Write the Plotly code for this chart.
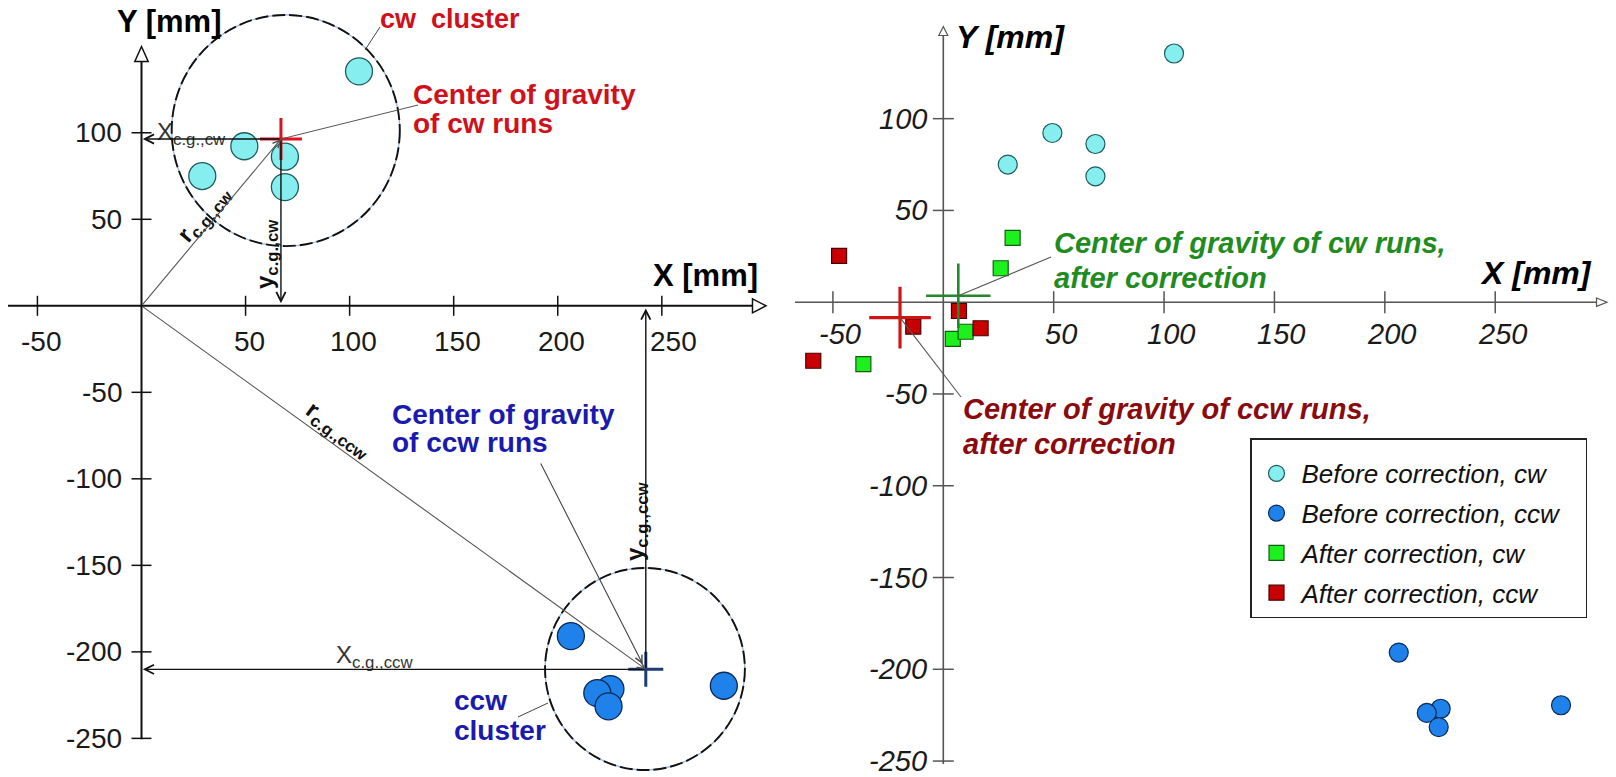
import plotly.graph_objects as go

# ---------------- data (mm) ----------------
cw_before_x = [104.5, 49.4, 29.2, 68.9, 68.9]
cw_before_y = [135.5, 92.2, 75.0, 86.2, 68.6]
ccw_before_x = [206.3, 279.8, 225.3, 219.0, 224.4]
ccw_before_y = [-190.9, -219.6, -221.5, -223.8, -231.5]
cw_after_x = [31.4, 26.0, -36.2, 4.3, 10.1]
cw_after_y = [35.1, 18.5, -33.7, -20.0, -16.1]
ccw_after_x = [-47.2, -13.6, 7.1, 16.9, -58.9]
ccw_after_y = [25.2, -13.3, -4.8, -14.2, -31.9]

# centres of gravity: [cw, ccw]
cg_before_x = [67.0, 242.3]
cg_before_y = [96.4, -210.1]
cg_after_x = [6.8, -19.6]
cg_after_y = [3.5, -8.4]

# cluster circles: [cw, ccw] centre and half-extent (mm)
cluster_cx = [69.3, 241.9]
cluster_cy = [101.3, -209.9]
cluster_rx = [54.8, 48.0]
cluster_ry = [66.8, 58.4]

x_ticks = [-50, 50, 100, 150, 200, 250]
y_ticks = [100, 50, -50, -100, -150, -200, -250]

legend_names = ["Before correction, cw", "Before correction, ccw",
                "After correction, cw", "After correction, ccw"]

# ---------------- geometry ----------------
W, H = 1616, 777
SPLIT = 780
X0L, SXL, Y0L, SYL = 141.5, 2.0813, 305.8, 1.7303   # left panel pixel scale
X0R, SXR, Y0R, SYR = 943.3, 2.2077, 302.2, 1.8354   # right panel pixel scale
FONT = "Liberation Sans, Arial, sans-serif"
NBSP = "\u00a0"


def lx(px):
    return (px - X0L) / SXL


def ly(py):
    return (Y0L - py) / SYL


def rx(px):
    return (px - X0R) / SXR


def ry(py):
    return (Y0R - py) / SYR


fig = go.Figure()

# ---------------- left panel marks ----------------
fig.add_trace(go.Scatter(x=cw_before_x, y=cw_before_y, mode="markers", xaxis="x", yaxis="y",
                         showlegend=False,
                         marker=dict(size=27, color="#86eeee", line=dict(color="#1f5c5c", width=1.3))))
fig.add_trace(go.Scatter(x=ccw_before_x, y=ccw_before_y, mode="markers", xaxis="x", yaxis="y",
                         showlegend=False,
                         marker=dict(size=27, color="#1e82ea", line=dict(color="#0b2a55", width=1.3))))
fig.add_trace(go.Scatter(x=[cg_before_x[0]], y=[cg_before_y[0]], mode="markers", xaxis="x", yaxis="y",
                         showlegend=False,
                         marker=dict(symbol="cross-thin", size=30, line=dict(color="#e0101c", width=3))))
fig.add_trace(go.Scatter(x=[cg_before_x[1]], y=[cg_before_y[1]], mode="markers", xaxis="x", yaxis="y",
                         showlegend=False,
                         marker=dict(symbol="cross-thin", size=25, line=dict(color="#1e3c78", width=3))))

# ---------------- right panel marks ----------------
fig.add_trace(go.Scatter(x=cw_before_x, y=cw_before_y, mode="markers", xaxis="x2", yaxis="y2",
                         name=legend_names[0], legendgroup="a",
                         marker=dict(size=19, color="#86eeee", line=dict(color="#1f5c5c", width=1.2))))
fig.add_trace(go.Scatter(x=ccw_before_x, y=ccw_before_y, mode="markers", xaxis="x2", yaxis="y2",
                         name=legend_names[1] + NBSP * 3, legendgroup="b",
                         marker=dict(size=19, color="#1e82ea", line=dict(color="#0b2a55", width=1.2))))
fig.add_trace(go.Scatter(x=cw_after_x, y=cw_after_y, mode="markers", xaxis="x2", yaxis="y2",
                         name=legend_names[2], legendgroup="c",
                         marker=dict(symbol="square", size=15, color="#1ef01e",
                                     line=dict(color="#135c13", width=1.2))))
fig.add_trace(go.Scatter(x=ccw_after_x, y=ccw_after_y, mode="markers", xaxis="x2", yaxis="y2",
                         name=legend_names[3], legendgroup="d",
                         marker=dict(symbol="square", size=15, color="#c80000",
                                     line=dict(color="#4a0000", width=1.2))))
fig.add_trace(go.Scatter(x=[cg_after_x[0]], y=[cg_after_y[0]], mode="markers", xaxis="x2", yaxis="y2",
                         showlegend=False,
                         marker=dict(symbol="cross-thin", size=46, line=dict(color="#23882a", width=2.6))))
fig.add_trace(go.Scatter(x=[cg_after_x[1]], y=[cg_after_y[1]], mode="markers", xaxis="x2", yaxis="y2",
                         showlegend=False,
                         marker=dict(symbol="cross-thin", size=44, line=dict(color="#d01414", width=3.2))))

shapes = []
ann = []

# ---------------- cluster circles ----------------
for i in range(2):
    for col, wd, dash in (("#9ab6e0", 1.3, "solid"), ("#111111", 1.9, "13px,4px")):
        shapes.append(dict(type="circle", xref="x", yref="y", layer="below",
                           x0=cluster_cx[i] - cluster_rx[i], x1=cluster_cx[i] + cluster_rx[i],
                           y0=cluster_cy[i] - cluster_ry[i], y1=cluster_cy[i] + cluster_ry[i],
                           line=dict(color=col, width=wd, dash=dash)))

# ---------------- axes (left) ----------------
AXL = dict(color="#111111", width=2)
shapes.append(dict(type="line", xref="x", yref="y", x0=lx(8), x1=lx(753), y0=0, y1=0, line=AXL, layer="below"))
shapes.append(dict(type="line", xref="x", yref="y", x0=0, x1=0, y0=-250.5, y1=ly(62), line=AXL, layer="below"))
shapes.append(dict(type="path", xref="x", yref="y", fillcolor="white", line=dict(color="#111111", width=1.5),
                   path=f"M {lx(752.5)},{7/SYL} L {lx(766)},0 L {lx(752.5)},{-7/SYL} Z"))
shapes.append(dict(type="path", xref="x", yref="y", fillcolor="white", line=dict(color="#111111", width=1.5),
                   path=f"M {-6.7/SXL},{ly(61.5)} L 0,{ly(46.5)} L {6.7/SXL},{ly(61.5)} Z"))
for t in x_ticks:
    shapes.append(dict(type="line", xref="x", yref="y", x0=t, x1=t, y0=-10/SYL, y1=10/SYL,
                       line=dict(color="#111111", width=1.5)))
    ann.append(dict(x=t, y=0, xref="x", yref="y", text=str(t), showarrow=False,
                    xshift=12 if t == 250 else 4, yshift=-36, xanchor="center", yanchor="middle",
                    font=dict(family=FONT, size=28, color="#1a1a1a")))
for t in y_ticks:
    shapes.append(dict(type="line", xref="x", yref="y", x0=-10/SXL, x1=10/SXL, y0=t, y1=t,
                       line=dict(color="#111111", width=1.5)))
    ann.append(dict(x=0, y=t, xref="x", yref="y", text=str(t), showarrow=False,
                    xshift=-18, xanchor="right", yanchor="middle",
                    font=dict(family=FONT, size=28, color="#1a1a1a")))

# ---------------- axes (right) ----------------
AXR = dict(color="#555555", width=1.6)
shapes.append(dict(type="line", xref="x2", yref="y2", x0=rx(795), x1=rx(1597), y0=0, y1=0, line=AXR, layer="below"))
shapes.append(dict(type="line", xref="x2", yref="y2", x0=0, x1=0, y0=ry(764), y1=ry(35), line=AXR, layer="below"))
shapes.append(dict(type="path", xref="x2", yref="y2", fillcolor="white", line=dict(color="#555555", width=1.2),
                   path=f"M {rx(1596.5)},{4.2/SYR} L {rx(1607)},0 L {rx(1596.5)},{-4.2/SYR} Z"))
shapes.append(dict(type="path", xref="x2", yref="y2", fillcolor="white", line=dict(color="#555555", width=1.2),
                   path=f"M {-4.5/SXR},{ry(35.5)} L 0,{ry(26.5)} L {4.5/SXR},{ry(35.5)} Z"))
for t in x_ticks:
    shapes.append(dict(type="line", xref="x2", yref="y2", x0=t, x1=t, y0=-11/SYR, y1=11/SYR,
                       line=dict(color="#555555", width=1.5)))
    ann.append(dict(x=t, y=0, xref="x2", yref="y2", text=str(t), showarrow=False,
                    xshift=7, yshift=-32, xanchor="center", yanchor="middle",
                    font=dict(family=FONT, size=29, color="#1a1a1a", style="italic")))
for t in y_ticks:
    shapes.append(dict(type="line", xref="x2", yref="y2", x0=-10.5/SXR, x1=10.5/SXR, y0=t, y1=t,
                       line=dict(color="#555555", width=1.5)))
    ann.append(dict(x=0, y=t, xref="x2", yref="y2", text=str(t), showarrow=False,
                    xshift=-14, xanchor="right", yanchor="middle",
                    font=dict(family=FONT, size=29, color="#1a1a1a", style="italic")))


def txt(s, px, py, size, color="black", weight="normal", style="normal", xanchor="center", angle=0):
    return dict(text=s, x=px / W, y=1 - py / H, xref="paper", yref="paper", showarrow=False,
                xanchor=xanchor, yanchor="middle", textangle=angle,
                font=dict(family=FONT, size=size, color=color, weight=weight, style=style))


def arrow(xh, yh, xt, yt, axis="", color="#111111", width=1.3, head=5):
    return dict(x=xh, y=yh, ax=xt, ay=yt, xref="x" + axis, yref="y" + axis,
                axref="x" + axis, ayref="y" + axis, text="", showarrow=True,
                arrowhead=head, arrowsize=1.3, arrowwidth=width, arrowcolor=color,
                standoff=0, startstandoff=0)


RED = "#d0101a"
BLUE = "#1a1aae"

# ---------------- left annotations ----------------
ann.append(txt("Y [mm]", 169, 22, 31, weight="bold"))
ann.append(txt("X [mm]", 705, 276, 31, weight="bold"))
ann.append(txt("cw  cluster", 378, 19, 27, RED, "bold", xanchor="left"))
ann.append(txt("Center of gravity", 411, 94, 28, RED, "bold", xanchor="left"))
ann.append(txt("of cw runs", 411, 123, 28, RED, "bold", xanchor="left"))
ann.append(txt("Center of gravity", 390, 414, 28, BLUE, "bold", xanchor="left"))
ann.append(txt("of ccw runs", 390, 442, 28, BLUE, "bold", xanchor="left"))
ann.append(txt("ccw", 452, 700, 28, BLUE, "bold", xanchor="left"))
ann.append(txt("cluster", 452, 730, 28, BLUE, "bold", xanchor="left"))

ann.append(txt("X<sub>c.g.,cw</sub>", 155, 133, 24, "#333333", xanchor="left"))
ann.append(txt("X<sub>c.g.,ccw</sub>", 334, 656, 24, "#333333", xanchor="left"))
ann.append(txt("r<sub>c.g.,cw</sub>", 204, 214, 24, "#111111", "bold", angle=-50))
ann.append(txt("y<sub>c.g.,cw</sub>", 267, 254, 24, "#111111", "bold", angle=-90))
ann.append(txt("r<sub>c.g.,ccw</sub>", 339, 430, 24, "#111111", "bold", angle=36))
ann.append(txt("y<sub>c.g.,ccw</sub>", 636, 521, 24, "#111111", "bold", angle=-90))

# leader lines (left)
shapes.append(dict(type="line", xref="paper", yref="paper", x0=380 / W, y0=1 - 27 / H, x1=365 / W, y1=1 - 50 / H,
                   line=dict(color="#444444", width=1)))
shapes.append(dict(type="line", xref="x", yref="y", x0=cg_before_x[0], y0=cg_before_y[0], x1=lx(418), y1=ly(105),
                   line=dict(color="#555555", width=1)))
shapes.append(dict(type="line", xref="paper", yref="paper", x0=518 / W, y0=1 - 717 / H, x1=548 / W, y1=1 - 703 / H,
                   line=dict(color="#444444", width=1)))

# dimension arrows (left)
cxw, cyw = cg_before_x[0], cg_before_y[0]
cxc, cyc = cg_before_x[1], cg_before_y[1]
ann.append(arrow(0.6, cyw, cxw, cyw, width=1.4))
ann.append(arrow(cxw, 1.5, cxw, cyw, width=1.4))
ann.append(arrow(cxw, cyw, 0, 0, color="#555555", width=1.1))
ann.append(arrow(0.6, cyc, cxc, cyc, width=1.4))
ann.append(arrow(cxc, -1.5, cxc, cyc, width=1.4))
ann.append(arrow(cxc, cyc, 0, 0, color="#555555", width=1.1))
ann.append(arrow(cxc - 1.5, cyc + 3, lx(540), ly(462), color="#444444", width=1.1))

# ---------------- right annotations ----------------
GREEN = "#1f8c22"
DRED = "#8a0a0e"
ann.append(txt("Y [mm]", 1011, 37, 32, weight="bold", style="italic"))
ann.append(txt("X [mm]", 1536, 273, 32, weight="bold", style="italic"))
ann.append(txt("Center of gravity of cw runs,", 1052, 243, 29, GREEN, "bold", "italic", xanchor="left"))
ann.append(txt("after correction", 1052, 278, 29, GREEN, "bold", "italic", xanchor="left"))
ann.append(txt("Center of gravity of ccw runs,", 961, 409, 29, DRED, "bold", "italic", xanchor="left"))
ann.append(txt("after correction", 961, 444, 29, DRED, "bold", "italic", xanchor="left"))
shapes.append(dict(type="line", xref="x2", yref="y2", x0=cg_after_x[0], y0=cg_after_y[0], x1=rx(1051), y1=ry(257),
                   line=dict(color="#555555", width=1.1)))
shapes.append(dict(type="line", xref="x2", yref="y2", x0=cg_after_x[1], y0=cg_after_y[1], x1=rx(961), y1=ry(397),
                   line=dict(color="#555555", width=1.1)))

fig.update_layout(
    width=W, height=H, margin=dict(l=0, r=0, t=0, b=0),
    paper_bgcolor="white", plot_bgcolor="white",
    xaxis=dict(domain=[0, SPLIT / W], range=[lx(0), lx(SPLIT)], visible=False, fixedrange=True),
    yaxis=dict(domain=[0, 1], range=[ly(H), ly(0)], visible=False, fixedrange=True),
    xaxis2=dict(domain=[SPLIT / W, 1], range=[rx(SPLIT), rx(W)], visible=False, anchor="y2", fixedrange=True),
    yaxis2=dict(domain=[0, 1], range=[ry(H), ry(0)], visible=False, anchor="x2", fixedrange=True),
    shapes=shapes, annotations=ann,
    showlegend=True,
    legend=dict(x=1250 / W, y=1 - 438 / H, xanchor="left", yanchor="top",
                bgcolor="white", bordercolor="#222222", borderwidth=1.5,
                font=dict(family=FONT, size=26, color="#111111", style="italic"),
                tracegroupgap=3, traceorder="grouped", itemsizing="trace", itemwidth=40,
                title=dict(text=" ", font=dict(size=8))),
)

fig.write_html("out.html", config={"displayModeBar": False},
               post_script="document.body.style.margin='0px';document.body.style.padding='0px';"
                           "document.body.style.overflow='hidden';")
